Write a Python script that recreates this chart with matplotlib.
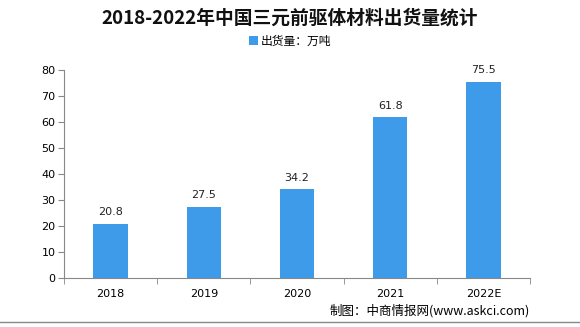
import matplotlib.pyplot as plt
import numpy as np

plt.rcParams['font.family'] = ['Noto Sans CJK SC', 'DejaVu Sans']

years = ['2018', '2019', '2020', '2021', '2022E']
shipments = [20.8, 27.5, 34.2, 61.8, 75.5]
yticks = [0, 10, 20, 30, 40, 50, 60, 70, 80]

fig = plt.figure(figsize=(5.8, 3.27), dpi=100)
ax = fig.add_axes([64 / 580, 49 / 327, 466 / 580, 208 / 327])

xpos = np.arange(len(years))
bars = ax.bar(xpos, shipments, width=0.37, color='#3d9be9', label='出货量：万吨')
for x, v in zip(xpos, shipments):
    ax.text(x, v + 2.5, f'{v}', ha='center', va='bottom', fontsize=8, color='#222222',
            family='DejaVu Sans')

ax.set_xlim(-0.5, len(years) - 0.5)
ax.set_ylim(0, 80)
ax.set_yticks(yticks)
ax.set_xticks(xpos)
ax.set_xticklabels(years)
ax.set_xticks(np.arange(len(years) + 1) - 0.5, minor=True)
ax.tick_params(axis='x', which='major', length=0, pad=8, labelsize=8)
ax.tick_params(axis='x', which='minor', length=4, color='#888888')
ax.tick_params(axis='y', length=4, color='#888888', labelsize=8, pad=2)
for lab in ax.get_xticklabels() + ax.get_yticklabels():
    lab.set_family('DejaVu Sans')
for s in ['top', 'right']:
    ax.spines[s].set_visible(False)
for s in ['left', 'bottom']:
    ax.spines[s].set_color('#888888')

fig.text(0.5, 1 - 18 / 327, '2018-2022年中国三元前驱体材料出货量统计', ha='center', va='center',
         fontsize=13.5, fontweight='bold', color='#111111')
ax.legend(loc='upper center', bbox_to_anchor=(0.485, 1.22), frameon=False, fontsize=8.5,
          handlelength=0.8, handleheight=0.8, handletextpad=0.2)
fig.text(530 / 580, 1 - 311 / 327, '制图：中商情报网(www.askci.com)', ha='right', va='center',
         fontsize=9)
fig.add_artist(plt.Line2D([0, 1], [1 - 322 / 327] * 2, color='#888888', lw=1))

fig.savefig('out.png', dpi=100)
